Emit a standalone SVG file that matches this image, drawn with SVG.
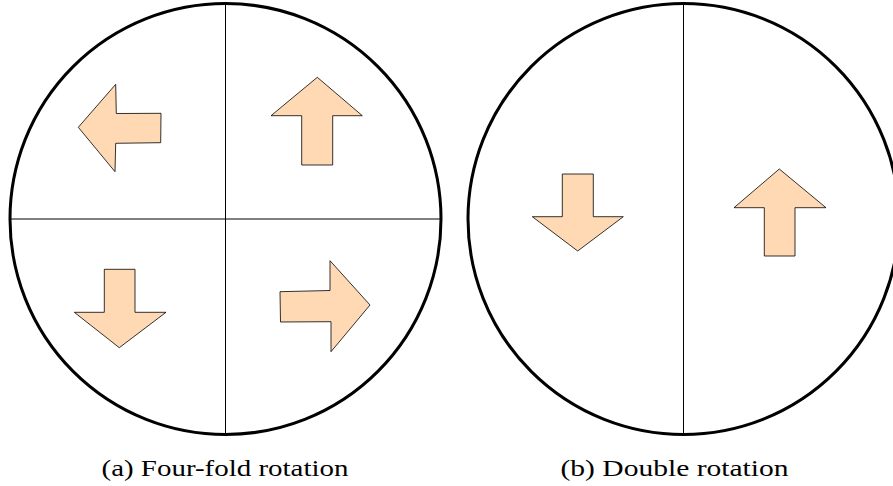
<svg xmlns="http://www.w3.org/2000/svg" width="893" height="486" viewBox="0 0 893 486">
<style>
.circ{fill:none;stroke:#000;stroke-width:3}
.div{stroke:#000;stroke-width:1;fill:none}
.arr{fill:#ffd9b3;stroke:#000;stroke-width:0.8;stroke-linejoin:miter}
.cap{font-family:"Liberation Serif",serif;font-size:22.5px;fill:#000}
</style>
<rect width="893" height="486" fill="#fff"/>
<g id="connectors">
<line class="div" x1="225.5" y1="3" x2="225.5" y2="435"/>
<line class="div" x1="10" y1="219" x2="441" y2="219"/>
<line class="div" x1="683.5" y1="3" x2="683.5" y2="435"/>
</g>
<g id="circle-a"><circle class="circ" cx="225.5" cy="219" r="215.5"/></g>
<g id="circle-b"><circle class="circ" cx="683.5" cy="219" r="215.5"/></g>
<g id="arrow-a-left"><polygon class="arr" points="78.3,127.3 115.7,84.3 116.3,113.5 161,113.3 160.7,142.7 115.7,143.3 115,171.7"/></g>
<g id="arrow-a-up"><polygon class="arr" points="317.3,77.3 362.3,115.7 332.7,115.7 332.7,165 301.7,165 301.7,115.7 271,115.7"/></g>
<g id="arrow-a-down"><polygon class="arr" points="104.3,269.3 135,269.3 135,312.3 166,312.3 119.3,347.7 74.3,312.3 104.3,312.3"/></g>
<g id="arrow-a-right"><polygon class="arr" points="280,291.7 330,290.5 330,260.7 370,305 331,351.7 331,321.7 280.5,322"/></g>
<g id="arrow-b-down"><polygon class="arr" points="562.3,174 593.3,174 593.3,216.7 623.3,216.7 577.7,251 532.3,216.7 562.3,216.7"/></g>
<g id="arrow-b-up"><polygon class="arr" points="779.3,169 826,207.7 795,207.7 795,256 764.3,256 764.3,207.7 734,207.7"/></g>
<text class="cap" x="101.5" y="476" textLength="247" lengthAdjust="spacingAndGlyphs">(a) Four-fold rotation</text>
<text class="cap" x="560.5" y="476" textLength="228" lengthAdjust="spacingAndGlyphs">(b) Double rotation</text>
</svg>
